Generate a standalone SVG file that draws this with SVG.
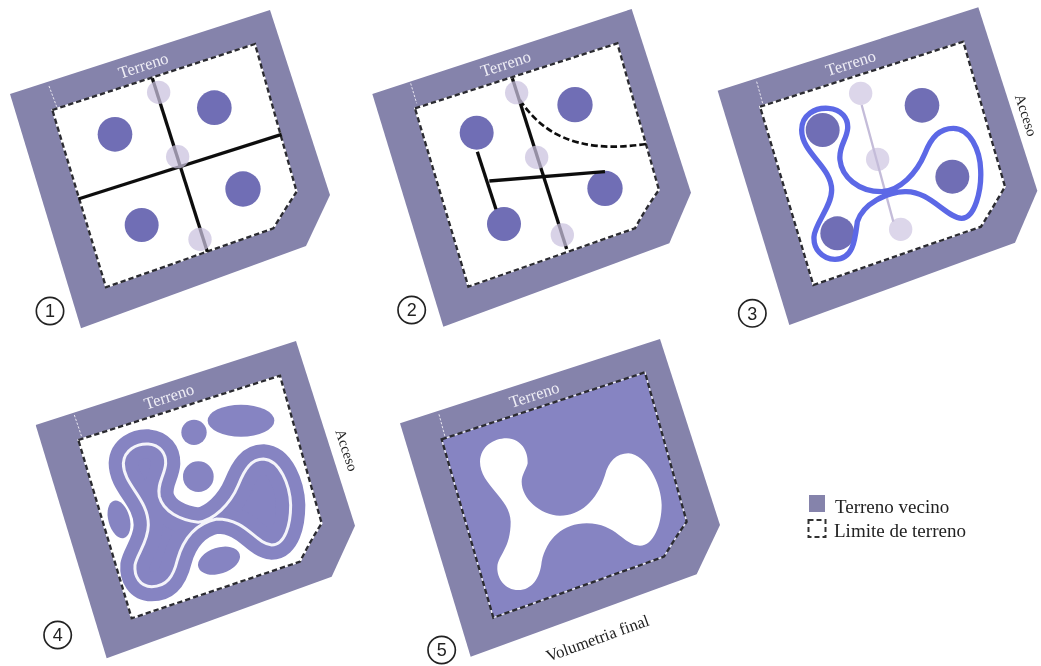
<svg xmlns="http://www.w3.org/2000/svg" width="1041" height="666" viewBox="0 0 1041 666">
<defs>
<filter id="soft" x="-2%" y="-2%" width="104%" height="104%"><feGaussianBlur stdDeviation="0.55"/></filter>
<path id="blob3" d="M305,390C305,345 345,322 385,325C425,328 445,355 443,385C440,420 415,440 420,480C425,530 475,575 545,575C600,572 650,520 675,460C695,410 720,385 760,385C810,385 840,450 842,510C845,570 825,655 785,655C740,655 690,572 615,575C560,577 490,610 472,665C465,720 460,778 405,778C365,778 340,745 342,710C345,670 395,620 395,570C395,500 305,460 305,390Z"/>
<path id="blob4" d="M310,385C312,345 350,325 385,327C420,330 438,355 437,385C435,420 410,445 418,485C430,530 480,555 535,562C580,555 630,510 655,450C675,400 695,372 730,372C780,375 810,450 812,510C812,570 795,630 755,630C705,625 680,552 590,552C530,565 490,610 472,675C460,725 440,755 395,755C360,755 342,725 345,690C350,660 385,620 385,570C385,490 310,450 310,385Z"/>
</defs>
<style>
.ground{fill:#8583ab}
.lot{fill:#fff;stroke:#fff;stroke-width:5}
.edge{fill:none;stroke:#2c2c30;stroke-width:7;stroke-dasharray:16 9}
.tick{fill:none;stroke:#e8e6f0;stroke-width:3;stroke-dasharray:7 5}
.site{fill:#6f6eb5}
.fade{fill:#dcd6ea}
.fadeon{fill:#c9c0de;fill-opacity:.72}
.axis{fill:none;stroke:#111;stroke-width:10}
.lilac{fill:none;stroke:#c4bcd9;stroke-width:7}
.mass{fill:#8684c2}
.outline{fill:none;stroke:#5b68e6;stroke-width:16}
.t{font-family:"Liberation Serif","Times New Roman",serif;font-size:50px;text-anchor:middle}
.w{fill:#eeedf5}
.d{fill:#222}
.a{font-size:44px}
.num{fill:none;stroke:#222;stroke-width:5}
.digit{font-family:"Liberation Sans",Arial,sans-serif;font-size:54px;fill:#222;text-anchor:middle}
.lg{font-family:"Liberation Serif","Times New Roman",serif;font-size:19px;fill:#222}
</style>
<g filter="url(#soft)">

<g id="panel-1" transform="scale(.33333)">
<path class="ground" d="M30,282L810,30L990,585L918,738L243,985Z"/>
<path class="lot" d="M157,330L765,132L890,575Q860,620 820,685L318,862Z"/>
<path class="edge" d="M157,330L765,132L890,575Q860,620 820,685L318,862Z"/>
<path class="tick" d="M147,258L170,320"/>
<text class="t w" transform="translate(435,212) rotate(-18)">Terreno</text>
<circle class="site" cx="345" cy="403" r="52"/><circle class="site" cx="643" cy="323" r="52"/><circle class="site" cx="729" cy="567" r="53"/><circle class="site" cx="425" cy="675" r="51"/>
<g id="connectors-1"><path class="axis" d="M457,235L622,755"/><path class="axis" d="M235,597L845,403"/></g>
<circle class="fadeon" cx="476" cy="277" r="35"/><circle class="fadeon" cx="533" cy="470" r="35"/><circle class="fadeon" cx="600" cy="718" r="35"/>
<circle class="num" cx="150" cy="933" r="41"/><text class="digit" x="150" y="952">1</text>
</g>

<g id="panel-2" transform="translate(360,0) scale(.33333)">
<path class="ground" d="M37,282L815,27L993,578L928,730L250,980Z"/>
<path class="lot" d="M165,325L772,130L897,570Q860,620 825,685L325,860Z"/>
<path class="edge" d="M165,325L772,130L897,570Q860,620 825,685L325,860Z"/>
<path class="tick" d="M152,250L170,310"/>
<text class="t w" transform="translate(442,207) rotate(-18)">Terreno</text>
<circle class="site" cx="350" cy="398" r="51"/><circle class="site" cx="645" cy="314" r="53"/><circle class="site" cx="735" cy="565" r="53"/><circle class="site" cx="432" cy="672" r="51"/>
<g id="connectors-2"><path class="axis" d="M457,235L620,747"/><path class="axis" d="M352,455L408,628"/><path class="axis" d="M388,543L735,515"/><path class="axis" style="stroke-dasharray:20 9;stroke-width:8" d="M480,300C540,390 640,465 858,432"/></g>
<circle class="fadeon" cx="470" cy="278" r="35"/><circle class="fadeon" cx="530" cy="472" r="35"/><circle class="fadeon" cx="607" cy="705" r="35"/>
<circle class="num" cx="155" cy="930" r="41"/><text class="digit" x="155" y="949">2</text>
</g>

<g id="panel-3" transform="translate(700,0) scale(.33333)">
<path class="ground" d="M53,272L835,22L1012,572L945,728L268,975Z"/>
<path class="lot" d="M180,320L790,125L915,560Q880,620 843,680L340,855Z"/>
<path class="edge" d="M180,320L790,125L915,560Q880,620 843,680L340,855Z"/>
<path class="tick" d="M170,245L188,310"/>
<text class="t w" transform="translate(457,205) rotate(-18)">Terreno</text>
<circle class="site" cx="368" cy="390" r="51"/><circle class="site" cx="666" cy="316" r="52"/><circle class="site" cx="757" cy="530" r="51"/><circle class="site" cx="412" cy="700" r="51"/>
<circle class="fade" cx="482" cy="280" r="35"/><circle class="fade" cx="533" cy="478" r="35"/><circle class="fade" cx="602" cy="688" r="35"/>
<g id="connectors-3"><path class="lilac" d="M485,315L580,665"/><use href="#blob3" class="outline"/></g>
<text class="t d a" transform="translate(964,350) rotate(72)">Acceso</text>
<circle class="num" cx="157" cy="940" r="41"/><text class="digit" x="157" y="959">3</text>
</g>

<g id="panel-4" transform="translate(20,335) scale(.33333)">
<path class="ground" d="M47,270L828,18L1005,572L935,725L260,970Z"/>
<path class="lot" d="M175,315L780,122L905,565Q870,620 840,680L335,850Z"/>
<path class="edge" d="M175,315L780,122L905,565Q870,620 840,680L335,850Z"/>
<path class="tick" d="M163,240L185,305"/>
<text class="t w" transform="translate(452,200) rotate(-18)">Terreno</text>
<ellipse class="mass" cx="663" cy="257" rx="100" ry="48"/><circle class="mass" cx="522" cy="292" r="38"/><circle class="mass" cx="535" cy="425" r="46"/>
<ellipse class="mass" cx="297" cy="553" rx="32" ry="58" transform="rotate(-15 297 553)"/><ellipse class="mass" cx="597" cy="677" rx="65" ry="39" transform="rotate(-18 597 677)"/>
<use href="#blob4" class="mass" style="stroke:#8684c2;stroke-width:88"/>
<use href="#blob4" style="fill:none;stroke:#f4f4fa;stroke-width:9"/>
<text class="t d a" transform="translate(966,350) rotate(72)">Acceso</text>
<circle class="num" cx="113" cy="900" r="41"/><text class="digit" x="113" y="919">4</text>
</g>

<g id="panel-5" transform="translate(390,335) scale(.33333)">
<path class="ground" d="M30,265L810,12L990,570L920,718L242,965Z"/>
<path class="mass" d="M155,313L765,112L890,560Q855,610 822,665L310,848Z"/>
<path d="M155,313L765,112L890,560Q855,610 822,665L310,848Z" style="fill:none;stroke:#eeeef6;stroke-width:4"/>
<path class="edge" d="M155,313L765,112L890,560Q855,610 822,665L310,848Z"/>
<path class="tick" d="M147,238L165,305"/>
<text class="t w" transform="translate(438,195) rotate(-18)">Terreno</text>
<path fill="#fff" d="M270,380C272,335 310,310 350,310C395,312 415,350 413,385C410,400 395,420 395,440C395,490 450,540 510,542C570,542 620,500 645,420C655,380 680,355 715,355C770,358 815,450 815,510C815,570 790,632 750,632C700,632 680,565 590,565C520,565 470,610 455,680C450,730 425,765 385,765C345,765 320,730 322,695C325,660 362,640 362,560C362,490 270,450 270,380Z"/>
<text class="t d" transform="translate(628,925) rotate(-20)">Volumetria final</text>
<circle class="num" cx="155" cy="945" r="41"/><text class="digit" x="155" y="964">5</text>
</g>

<g id="legend">
<rect x="809" y="495" width="16" height="17" fill="#8583ab"/>
<rect x="808.500" y="520" width="17" height="17" fill="#fff" stroke="#333" stroke-width="2" stroke-dasharray="5 3"/>
<text class="lg" x="835" y="513">Terreno vecino</text>
<text class="lg" x="834" y="537">Limite de terreno</text>
</g>
</g>
</svg>
